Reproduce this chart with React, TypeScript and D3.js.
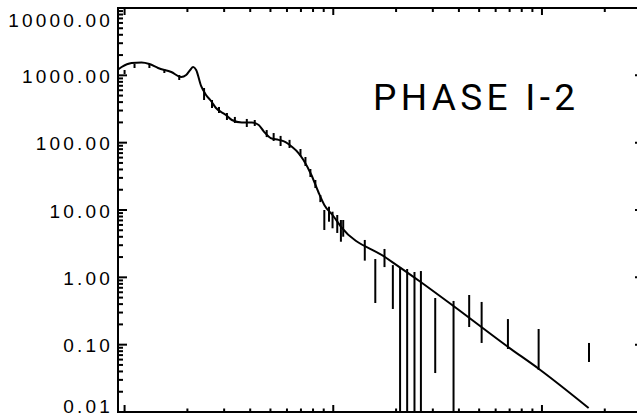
import { useRef, useEffect } from 'react';
import * as d3 from 'd3';

// fitted model curve (q, intensity)
const fitQ = [0.00931, 0.00968, 0.0108, 0.01205, 0.01315, 0.01447, 0.01674, 0.01868, 0.01973, 0.02062, 0.02131, 0.02203, 0.02326, 0.02457, 0.02596, 0.02742, 0.03059, 0.03267, 0.03646, 0.04071, 0.04394, 0.04642, 0.05012, 0.05471, 0.05907, 0.0631, 0.06813, 0.07197, 0.07856, 0.08483, 0.0906, 0.1, 0.1092, 0.1768, 0.2624, 0.3767, 0.6887, 0.9676, 1.674];
const fitI = [1220, 1330, 1525, 1552, 1474, 1285, 1121, 945, 1012, 1200, 1330, 1200, 695, 511, 416, 327, 258, 217, 199, 199, 183, 147, 117, 110, 102, 87.8, 70.2, 55.3, 33.1, 18.5, 11.9, 8.15, 5.59, 2.005, 0.853, 0.375, 0.0923, 0.0436, 0.01147];

// measured points shown as error bars (lo = 0 means the bar runs off the bottom)
const dataQ = [0.01, 0.01116, 0.01315, 0.01551, 0.01828, 0.02404, 0.02624, 0.02834, 0.03094, 0.03377, 0.03852, 0.04205, 0.04797, 0.0518, 0.05592, 0.06172, 0.06965, 0.07357, 0.0777, 0.08208, 0.08672,
  0.0906, 0.0954, 0.0992, 0.1045, 0.1088, 0.1116, 0.1416, 0.159, 0.176, 0.193, 0.209, 0.226, 0.245, 0.263, 0.308, 0.377, 0.448, 0.514, 0.687, 0.964, 1.68];
const dataLo = [1047, 1285, 1285, 1083, 853, 430, 327, 276, 217, 196, 171, 177, 121, 106, 89.3, 83.4, 63.4, 45.0, 30.9, 21.2, 13.1,
  5.05, 6.7, 5.35, 4.56, 3.38, 4.01, 1.77, 0.416, 1.42, 0.339, 0, 0, 0, 0, 0.0379, 0, 0.183, 0.106, 0.0863, 0.0421, 0.0553];
const dataHi = [1200, 1474, 1474, 1242, 1012, 649, 430, 339, 276, 241, 225, 217, 154, 139, 126, 110, 80.5, 61.3, 40.6, 27.9, 16.7,
  10.0, 11.2, 9.44, 8.43, 7.11, 7.11, 3.59, 1.87, 2.64, 1.52, 1.42, 1.33, 1.2, 1.24, 0.493, 0.446, 0.547, 0.431, 0.24, 0.171, 0.106];

const xDomain = [0.0093, 2.95];
const yTickValues = [0.01, 0.1, 1, 10, 100, 1000, 10000];
const title = 'PHASE I-2';

export default function App() {
  const svgRef = useRef<SVGSVGElement>(null);

  useEffect(() => {
    if (!svgRef.current) return;
    const width = 637;
    const height = 416;
    const margin = { top: 8, right: -3, bottom: 4, left: 118 };

    const svg = d3.select(svgRef.current);
    svg.selectAll('*').remove();
    svg.attr('width', width).attr('height', height);

    const x = d3.scaleLog().domain(xDomain).range([margin.left, width - margin.right]);
    const y = d3.scaleLog().domain([0.01, 10000]).range([height - margin.bottom, margin.top]);
    const isMajor = (v: number) => Math.abs(Math.log10(v) - Math.round(Math.log10(v))) < 1e-6;

    const x0 = margin.left, x1 = width - margin.right;
    const y0 = height - margin.bottom, y1 = margin.top;

    const plot = svg.append('g');

    // fit line
    const line = d3.line<number>()
      .x((_, i) => x(fitQ[i]))
      .y(d => y(d))
      .curve(d3.curveMonotoneX);
    plot.append('path')
      .attr('d', line(fitI))
      .attr('fill', 'none')
      .attr('stroke', '#000')
      .attr('stroke-width', 2);

    // error bars
    plot.selectAll('line.err')
      .data(dataQ)
      .join('line')
      .attr('class', 'err')
      .attr('x1', d => x(d))
      .attr('x2', d => x(d))
      .attr('y1', (_, i) => y(Math.max(dataLo[i], 0.01)))
      .attr('y2', (_, i) => y(dataHi[i]))
      .attr('stroke', '#000')
      .attr('stroke-width', 2);

    // frame
    const axes = svg.append('g').attr('stroke', '#000').attr('stroke-width', 2);
    axes.append('line').attr('x1', x0).attr('x2', x0).attr('y1', y1 - 1).attr('y2', y0 + 1);
    axes.append('line').attr('x1', x0).attr('x2', x1).attr('y1', y1).attr('y2', y1);
    axes.append('line').attr('x1', x0).attr('x2', x1).attr('y1', y0).attr('y2', y0);
    axes.append('line').attr('x1', x1).attr('x2', x1).attr('y1', y1).attr('y2', y0);

    // x ticks (top and bottom, pointing inward)
    const xt = x.ticks();
    axes.selectAll('line.xb')
      .data(xt)
      .join('line')
      .attr('class', 'xb')
      .attr('x1', d => x(d)).attr('x2', d => x(d))
      .attr('y1', y0).attr('y2', d => y0 - (isMajor(d) ? 7 : 3.5));
    axes.selectAll('line.xt')
      .data(xt)
      .join('line')
      .attr('class', 'xt')
      .attr('x1', d => x(d)).attr('x2', d => x(d))
      .attr('y1', y1).attr('y2', d => y1 + (isMajor(d) ? 7 : 4));

    // y ticks (left and right)
    const yt = y.ticks();
    axes.selectAll('line.yl')
      .data(yt)
      .join('line')
      .attr('class', 'yl')
      .attr('x1', x0).attr('x2', d => x0 + (isMajor(d) ? 9 : 5))
      .attr('y1', d => y(d)).attr('y2', d => y(d));
    axes.selectAll('line.yr')
      .data(yt.filter(isMajor))
      .join('line')
      .attr('class', 'yr')
      .attr('x1', x1).attr('x2', x1 - 5)
      .attr('y1', d => y(d)).attr('y2', d => y(d));

    // y labels, kept inside the frame height
    const fmt = d3.format('.2f');
    svg.append('g')
      .selectAll('text')
      .data(yTickValues)
      .join('text')
      .attr('x', x0 - 5)
      .attr('y', d => Math.min(Math.max(y(d) + 1, y1 + 12), y0 - 6))
      .attr('dy', '0.35em')
      .attr('text-anchor', 'end')
      .attr('font-family', '"Liberation Sans", Arial, sans-serif')
      .attr('font-size', 19)
      .attr('letter-spacing', 3.2)
      .attr('fill', '#000')
      .text(d => fmt(d));

    // title
    svg.append('text')
      .attr('x', 373)
      .attr('y', 110)
      .attr('font-family', 'Roboto, "Liberation Sans", sans-serif')
      .attr('font-size', 37)
      .attr('textLength', 202)
      .attr('lengthAdjust', 'spacing')
      .attr('fill', '#000')
      .text(title);
  }, []);

  return <svg ref={svgRef} style={{ position: 'absolute', left: 0, top: 0, background: '#fff' }} />;
}
